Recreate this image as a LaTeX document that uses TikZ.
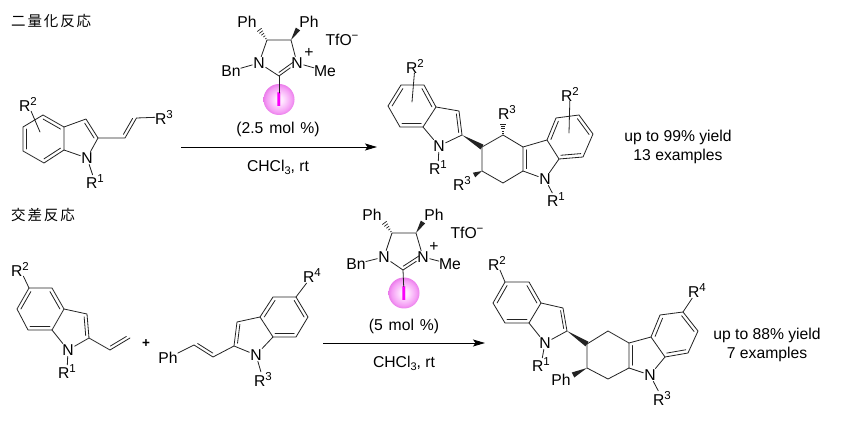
\documentclass[tikz,border=0pt]{standalone}
\usepackage{fontspec}
\setmainfont{Liberation Sans}
\newfontfamily\cjkfont[LetterSpace=13]{Noto Sans CJK JP}
\usetikzlibrary{calc,arrows.meta}
\definecolor{iodine}{RGB}{250,0,250}
\definecolor{bondcol}{RGB}{35,35,35}
\pgfdeclareradialshading{ballsh}{\pgfpoint{0bp}{0bp}}{rgb(0bp)=(1,.93,1); rgb(6bp)=(1,.9,1); rgb(20bp)=(.96,.62,.96); rgb(28bp)=(.9,.42,.9); rgb(50bp)=(.9,.42,.9)}
\tikzset{
  bond/.style={draw=bondcol,line width=0.8pt,line cap=round,line join=round},
  atom/.style={inner sep=0.8pt,font=\fontsize{15.7}{19}\selectfont},
  lab/.style={inner sep=0pt,font=\fontsize{15.7}{19}\selectfont,align=center},
  head/.style={inner sep=0pt,anchor=west,font=\fontsize{14.5}{16}\cjkfont},
  ballst/.style={circle,minimum size=31pt,inner sep=0pt,shade,shading=ballsh},
  iod/.style={inner sep=0pt,text=iodine,font=\fontsize{20}{20}\selectfont\bfseries},
  arrowline/.style={draw=black,line width=0.9pt,-{Stealth[length=12pt,width=7pt,inset=2.5pt]}}
}
\newcommand\sups[1]{\raisebox{6pt}{\fontsize{11.5}{11.5}\selectfont #1}}
\newcommand\subs[1]{\raisebox{-3pt}{\fontsize{11}{11}\selectfont #1}}
\newcommand\pt[3]{\coordinate (#1) at (#2,#3);}
% inner line of a ring double bond: pulled towards the ring centre
\newcommand\dbl[4]{\draw[bond] ($(#1)!#4!(#3)$) -- ($(#2)!#4!(#3)$);}
% parallel line of an open double bond
\newcommand\pline[3]{\draw[bond] ($(#1)!.1!(#2)!#3!90:(#2)$) -- ($(#2)!.1!(#1)!#3!-90:(#1)$);}
\newcommand\wdg[3]{\fill[bondcol] (#1) -- ($(#2)!#3!90:(#1)$) -- ($(#2)!#3!-90:(#1)$) -- cycle;}
\newcommand\hsh[2]{\foreach \t/\w in {.12/.7,.3/1.2,.48/1.7,.66/2.2,.84/2.7}{\draw[draw=bondcol,line width=.7pt] ($(#1)!\t!(#2)!\w pt!90:(#2)$) -- ($(#1)!\t!(#2)!\w pt!-90:(#2)$);}}
\begin{document}
\begin{tikzpicture}[x=1pt,y=-1pt]
\useasboundingbox (0,0) rectangle (844,422);
\fill[white] (0,0) rectangle (844,422);
% headings
\node[head] (h1) at (11,21) {二量化反応};
\node[head] (h2) at (11,215) {交差反応};

%%% monomer 1
\pt{a1}{43}{115}\pt{a2}{64}{127}\pt{a3}{64}{150}\pt{a4}{44}{163}\pt{a5}{23}{151}\pt{a6}{23}{127}
\pt{a7}{86}{119}\pt{a8}{98}{138}\pt{a9}{125}{138}\pt{a10}{136.5}{118}
\pt{ac}{43.5}{139}\pt{ap}{80}{138}
\node[atom] (an) at (87,158) {N};
\node[lab] (ar1) at (95,182) {R\sups{1}};
\node[lab] (ar2) at (28,104) {R\sups{2}};
\node[lab] (ar3) at (164,117) {R\sups{3}};
\pt{as}{40}{132}
\draw[bond] (a1)--(a2)--(a3)--(a4)--(a5)--(a6)--cycle;
\draw[bond] (a2)--(a7)--(a8)--(an)--(a3);
\draw[bond] (a8)--(a9)--(a10)--(ar3);
\draw[bond] (an)--(ar1);
\draw[bond] (ar2)--(as);
\dbl{a1}{a2}{ac}{.17}\dbl{a5}{a6}{ac}{.17}\dbl{a3}{a4}{ac}{.17}\dbl{a7}{a8}{ap}{.22}
\pline{a9}{a10}{3.2pt}

%%% catalyst 1
\pt{c4}{267}{40}\pt{c5}{291}{40}\pt{c2}{279}{76}\pt{cc}{279}{58}
\pt{ch}{258}{28}\pt{cw}{298}{29}
\node[atom] (cn1) at (259,63) {N};
\node[atom] (cn3) at (297,63) {N};
\node[lab] (cph1) at (247,22) {Ph};
\node[lab] (cph2) at (309,22) {Ph};
\node[lab] (cbn) at (231,71) {Bn};
\node[lab] (cme) at (325,71) {Me};
\node[lab] (cplus) at (309,53) {+};
\node[lab] (ctf) at (342,40) {TfO\sups{−}};
\node[ballst] (cball) at (279,99.5) {};
\node[iod] (ci) at (279,100) {I};
\draw[bond] (c4)--(c5)--(cn3)--(c2)--(cn1)--(c4);
\draw[bond] (cn1)--(cbn);\draw[bond] (cn3)--(cme);\draw[bond] (c2)--(ci);
\dbl{cn3}{c2}{cc}{.2}
\hsh{c4}{ch}\wdg{c5}{cw}{2.6pt}
\node[lab] (cmol) at (278,129) {(2.5\ \kern1.5pt mol\ \kern1.5pt\%)};
\node[lab] (csol) at (278,167) {CHCl\subs{3}, rt};
\pt{arr1a}{181}{147}\pt{arr1b}{377}{147}
\draw[arrowline] (arr1a)--(arr1b);

%%% product 1
\pt{p1}{401}{85}\pt{p2}{424}{85}\pt{p3}{436}{107}\pt{p4}{423}{127}\pt{p5}{400}{127}\pt{p6}{388}{106}
\pt{pc}{412}{106}\pt{p7}{459}{111}\pt{p8}{462}{135}\pt{pp}{447}{124}
\node[atom] (pn) at (439,146) {N};
\node[lab] (pr1) at (438,168) {R\sups{1}};
\node[lab] (pr2) at (415,66) {R\sups{2}};
\pt{ps}{412}{102}
\draw[bond] (p1)--(p2)--(p3)--(p4)--(p5)--(p6)--cycle;
\draw[bond] (p3)--(p7)--(p8)--(pn)--(p4);
\draw[bond] (pn)--(pr1);\draw[bond] (pr2)--(ps);
\dbl{p1}{p6}{pc}{.17}\dbl{p2}{p3}{pc}{.17}\dbl{p4}{p5}{pc}{.17}\dbl{p7}{p8}{pp}{.22}
\pt{q1}{482}{147}\pt{q2}{503}{135}\pt{q3}{523}{147}\pt{q4}{523}{171}\pt{q5}{503}{183}\pt{q6}{482}{171}
\node[lab] (qr3a) at (507,112) {R\sups{3}};
\node[lab] (qr3b) at (462,183) {R\sups{3}};
\pt{qh}{503}{122}\pt{qw}{474}{175}
\draw[bond] (q1)--(q2)--(q3)--(q4)--(q5)--(q6)--cycle;
\wdg{p8}{q1}{2.8pt}\wdg{q6}{qw}{2.6pt}\hsh{q2}{qh}
\pt{r1}{547}{140}\pt{r2}{559}{159}\pt{r3}{556}{118}\pt{r4}{579}{115}\pt{r5}{593}{134}\pt{r6}{583}{157}
\pt{rc}{570}{137}\pt{rp}{539}{160}
\node[atom] (rn) at (545,179) {N};
\node[lab] (rr1) at (556,200) {R\sups{1}};
\node[lab] (rr2) at (570,94) {R\sups{2}};
\pt{rs}{569}{133}
\draw[bond] (q3)--(r1)--(r2)--(rn)--(q4);
\draw[bond] (r1)--(r3)--(r4)--(r5)--(r6)--(r2);
\draw[bond] (rn)--(rr1);\draw[bond] (rr2)--(rs);
\dbl{q3}{q4}{rp}{.22}
\dbl{r1}{r3}{rc}{.17}\dbl{r4}{r5}{rc}{.17}\dbl{r6}{r2}{rc}{.17}
\node[lab] (y1) at (678,146.5) {up to 99\% yield\\13 examples};

%%% monomer 2
\pt{b1}{29}{288}\pt{b2}{52}{288}\pt{b3}{64}{309}\pt{b4}{52}{330}\pt{b5}{28}{330}\pt{b6}{17}{309}
\pt{bc}{40}{309}\pt{b7}{87}{314}\pt{b8}{89}{338}\pt{bp}{74}{327}\pt{b9}{110}{350}\pt{b10}{130}{338}
\node[atom] (bn) at (68,350) {N};
\node[lab] (br1) at (67,372) {R\sups{1}};
\node[lab] (br2) at (20,269) {R\sups{2}};
\draw[bond] (b1)--(b2)--(b3)--(b4)--(b5)--(b6)--cycle;
\draw[bond] (b3)--(b7)--(b8)--(bn)--(b4);
\draw[bond] (b8)--(b9)--(b10);
\draw[bond] (bn)--(br1);\draw[bond] (br2)--(b1);
\dbl{b1}{b6}{bc}{.17}\dbl{b2}{b3}{bc}{.17}\dbl{b4}{b5}{bc}{.17}\dbl{b7}{b8}{bp}{.22}
\pline{b9}{b10}{3.2pt}
\node[lab,font=\fontsize{13.5}{13.5}\selectfont\bfseries] (plus) at (146,344) {+};

%%% styryl indole
\pt{d1}{194}{345}\pt{d2}{213}{357}\pt{d3}{234}{346}\pt{d4}{237}{322}\pt{d5}{260}{317}\pt{d6}{273}{337}
\pt{d7}{273}{297}\pt{d8}{296}{297}\pt{d9}{308}{317}\pt{d10}{296}{337}
\pt{dc}{285}{317}\pt{dp}{250}{333}
\node[atom] (dn) at (256,355) {N};
\node[lab] (dph) at (168,358) {Ph};
\node[lab] (dr3) at (263,379) {R\sups{3}};
\node[lab] (dr4) at (312,276) {R\sups{4}};
\draw[bond] (dph)--(d1)--(d2)--(d3)--(d4)--(d5)--(d6)--(dn)--(d3);
\draw[bond] (d5)--(d7)--(d8)--(d9)--(d10)--(d6);
\draw[bond] (dn)--(dr3);\draw[bond] (d8)--(dr4);
\pline{d1}{d2}{3.2pt}
\dbl{d3}{d4}{dp}{.22}\dbl{d5}{d7}{dc}{.17}\dbl{d8}{d9}{dc}{.17}\dbl{d10}{d6}{dc}{.17}

%%% catalyst 2
\pt{e4}{392}{233}\pt{e5}{416}{233}\pt{e2}{403}{270}\pt{ec}{404}{251}
\pt{eh}{383}{221}\pt{ew}{423}{222}
\node[atom] (en1) at (384,257) {N};
\node[atom] (en3) at (423,257) {N};
\node[lab] (eph1) at (372,215) {Ph};
\node[lab] (eph2) at (434,215) {Ph};
\node[lab] (ebn) at (356,264) {Bn};
\node[lab] (eme) at (450,264) {Me};
\node[lab] (eplus) at (434,247) {+};
\node[lab] (etf) at (467,233) {TfO\sups{−}};
\node[ballst] (eball) at (404,293) {};
\node[iod] (ei) at (404,293.5) {I};
\draw[bond] (e4)--(e5)--(en3)--(e2)--(en1)--(e4);
\draw[bond] (en1)--(ebn);\draw[bond] (en3)--(eme);\draw[bond] (e2)--(ei);
\dbl{en3}{e2}{ec}{.2}
\hsh{e4}{eh}\wdg{e5}{ew}{2.6pt}
\node[lab] (emol) at (404,326) {(5\ \kern1.5pt mol\ \kern1.5pt\%)};
\node[lab] (esol) at (404,363) {CHCl\subs{3}, rt};
\pt{arr2a}{323}{343}\pt{arr2b}{485}{343}
\draw[arrowline] (arr2a)--(arr2b);

%%% product 2
\pt{f1}{505}{282}\pt{f2}{529}{282}\pt{f3}{541}{303}\pt{f4}{529}{323}\pt{f5}{505}{323}\pt{f6}{493}{303}
\pt{fc}{517}{303}\pt{f7}{563}{308}\pt{f8}{567}{331}\pt{fp}{552}{320}
\node[atom] (fn) at (545,343) {N};
\node[lab] (fr1) at (541,365) {R\sups{1}};
\node[lab] (fr2) at (497,263) {R\sups{2}};
\draw[bond] (f1)--(f2)--(f3)--(f4)--(f5)--(f6)--cycle;
\draw[bond] (f3)--(f7)--(f8)--(fn)--(f4);
\draw[bond] (fn)--(fr1);\draw[bond] (fr2)--(f1);
\dbl{f1}{f6}{fc}{.17}\dbl{f2}{f3}{fc}{.17}\dbl{f4}{f5}{fc}{.17}\dbl{f7}{f8}{fp}{.22}
\pt{g1}{587}{344}\pt{g2}{608}{331}\pt{g3}{629}{343}\pt{g4}{629}{368}\pt{g5}{608}{379}\pt{g6}{587}{368}
\node[lab] (gph) at (561,380) {Ph};
\pt{gw}{573}{375}
\draw[bond] (g1)--(g2)--(g3)--(g4)--(g5)--(g6)--cycle;
\wdg{f8}{g1}{2.8pt}\wdg{g6}{gw}{2.8pt}
\pt{k1}{651}{337}\pt{k2}{665}{357}\pt{k3}{660}{315}\pt{k4}{683}{312}\pt{k5}{698}{331}\pt{k6}{688}{353}
\pt{kc}{675}{334}\pt{kp}{645}{355}
\node[atom] (kn) at (650,375) {N};
\node[lab] (kr3) at (662,398) {R\sups{3}};
\node[lab] (kr4) at (697,291) {R\sups{4}};
\draw[bond] (g3)--(k1)--(k2)--(kn)--(g4);
\draw[bond] (k1)--(k3)--(k4)--(k5)--(k6)--(k2);
\draw[bond] (kn)--(kr3);\draw[bond] (k4)--(kr4);
\dbl{g3}{g4}{kp}{.22}\dbl{k1}{k3}{kc}{.17}\dbl{k4}{k5}{kc}{.17}\dbl{k6}{k2}{kc}{.17}
\node[lab] (y2) at (767,344.5) {up to 88\% yield\\7 examples};
\end{tikzpicture}
\end{document}
